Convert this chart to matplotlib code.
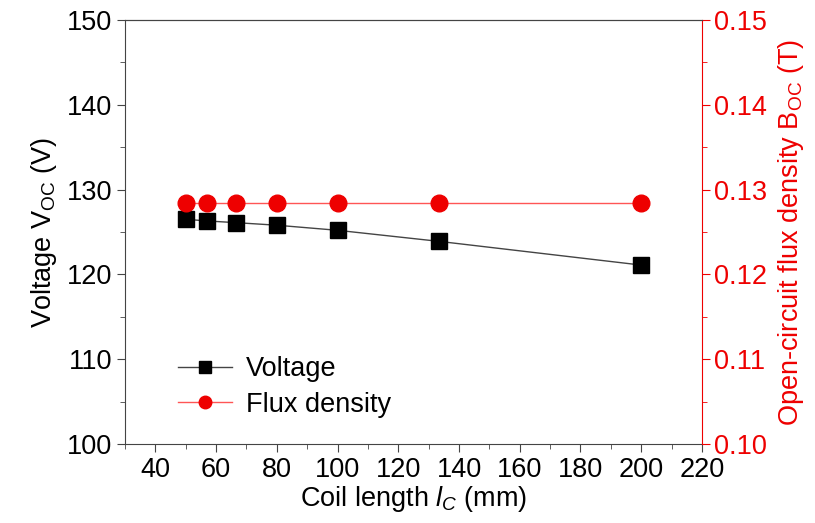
import matplotlib
matplotlib.use("Agg")
import matplotlib.pyplot as plt
from matplotlib.ticker import MultipleLocator

plt.rcParams['font.family'] = ['Liberation Sans', 'DejaVu Sans']
plt.rcParams['mathtext.fontset'] = 'custom'
plt.rcParams['mathtext.rm'] = 'Liberation Sans'
plt.rcParams['mathtext.it'] = 'Liberation Sans:italic'
plt.rcParams['font.size'] = 19.5

# data
coil_length = [50, 57.1, 66.7, 80, 100, 133.3, 200]
voltage = [126.5, 126.3, 126.1, 125.8, 125.2, 123.9, 121.1]
flux = [0.1284, 0.1284, 0.1284, 0.1284, 0.1284, 0.1284, 0.1284]

red = '#ee0000'

fig = plt.figure(figsize=(8.15, 5.23), dpi=100)
ax = fig.add_axes([0.1534, 0.151, 0.7079, 0.8108])
ax2 = ax.twinx()

ax.plot(coil_length, voltage, color='#444444', lw=1, marker='s', ms=11,
        mfc='black', mec='black', label='Voltage', zorder=3)
l2, = ax2.plot(coil_length, flux, color='#ff5555', lw=1, marker='o', ms=12,
               mfc=red, mec=red, label='Flux density', zorder=3)

ax.set_xlim(30, 220)
ax.set_ylim(100, 150)
ax2.set_ylim(0.10, 0.15)

ax.xaxis.set_major_locator(MultipleLocator(20))
ax.xaxis.set_minor_locator(MultipleLocator(10))
ax.yaxis.set_major_locator(MultipleLocator(10))
ax.yaxis.set_minor_locator(MultipleLocator(5))
ax2.yaxis.set_major_locator(MultipleLocator(0.01))
ax2.yaxis.set_minor_locator(MultipleLocator(0.005))
ax2.yaxis.set_major_formatter(plt.FormatStrFormatter('%.2f'))

ax.set_xticks([40, 60, 80, 100, 120, 140, 160, 180, 200, 220])

for s in ['left', 'bottom', 'top']:
    ax.spines[s].set_color('#444444')
ax.spines['right'].set_visible(False)
ax2.spines['right'].set_color(red)
ax2.spines['left'].set_visible(False)
ax2.spines['top'].set_color('#444444')
ax2.spines['bottom'].set_visible(False)

ax.tick_params(which='both', direction='out', color='#444444', right=False, top=False)
ax.tick_params(which='major', length=6, pad=3)
ax.tick_params(which='minor', length=3.5)
ax2.tick_params(which='both', direction='out', color=red, labelcolor=red)
ax2.tick_params(which='major', length=6, pad=3)
ax2.tick_params(which='minor', length=3.5)

ax.set_xlabel('Coil length $\\mathit{l}_{\\mathit{C}}$ (mm)', labelpad=1)
ax.set_ylabel('Voltage V$_{\\mathrm{OC}}$ (V)', labelpad=6)
ax2.set_ylabel('Open-circuit flux density B$_{\\mathrm{OC}}$ (T)', color=red, labelpad=6)

h1, lab1 = ax.get_legend_handles_labels()
ax.legend(h1 + [l2], lab1 + ['Flux density'], loc='lower left',
          bbox_to_anchor=(0.05, 0.005), frameon=False, handlelength=2.0,
          handletextpad=0.5, labelspacing=0.35, markerscale=0.75)

fig.savefig('out.png', dpi=100)
